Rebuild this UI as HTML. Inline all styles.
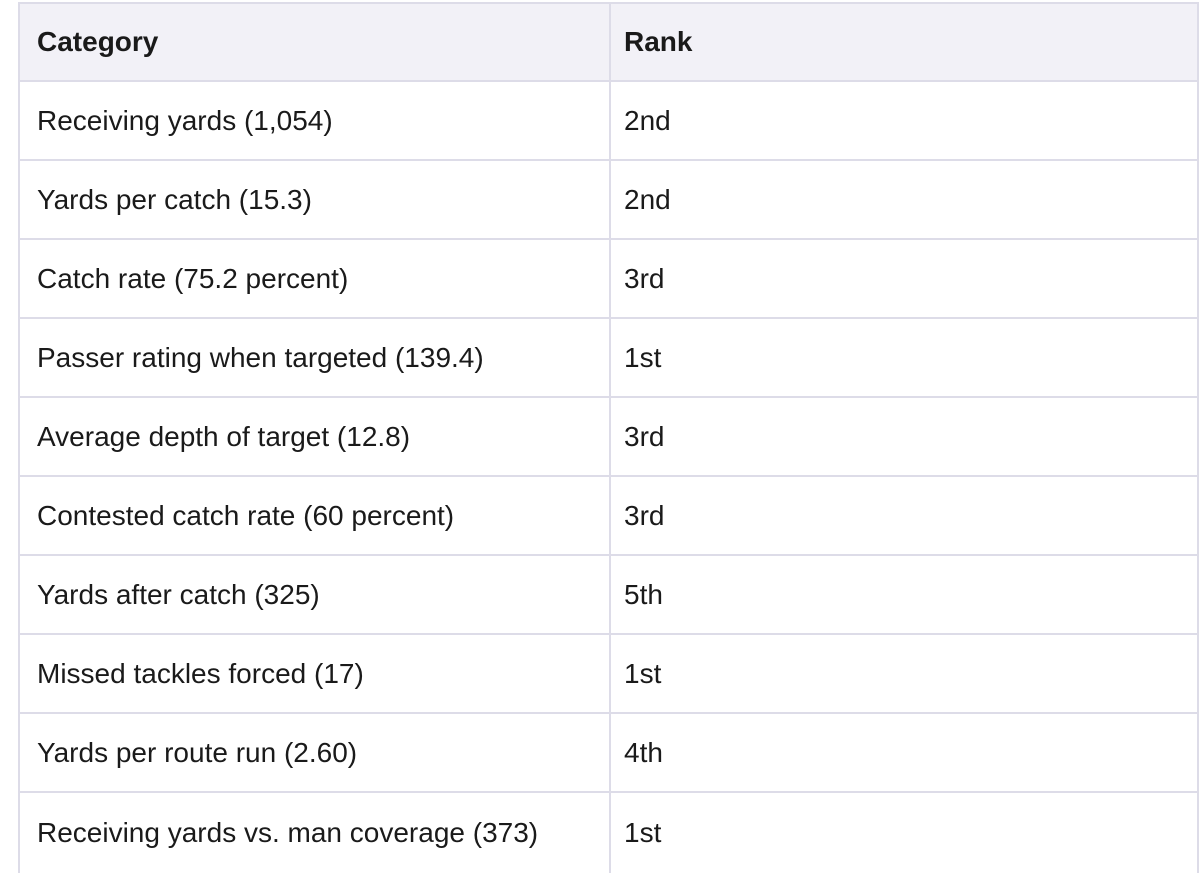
<!DOCTYPE html>
<html><head><style>
body{margin:0;width:1200px;height:869px;overflow:hidden;background:#fff;font-family:"Liberation Sans",sans-serif;}
table{position:absolute;left:18px;top:2px;width:1181px;border-collapse:collapse;}
td,th{border:2px solid #dddce8;height:77px;padding:0 0 0 17px;text-align:left;font-size:28px;color:#1a1a1a;font-weight:normal;}
th{background:#f2f1f7;font-weight:bold;height:76px;}
td:first-child,th:first-child{width:572px;}
tr td:last-child,tr th:last-child{padding-left:13px;}
tr:last-child td{border-bottom:none;height:80px;}
</style></head><body>
<table>
<tr><th>Category</th><th>Rank</th></tr>
<tr><td>Receiving yards (1,054)</td><td>2nd</td></tr>
<tr><td>Yards per catch (15.3)</td><td>2nd</td></tr>
<tr><td>Catch rate (75.2 percent)</td><td>3rd</td></tr>
<tr><td>Passer rating when targeted (139.4)</td><td>1st</td></tr>
<tr><td>Average depth of target (12.8)</td><td>3rd</td></tr>
<tr><td>Contested catch rate (60 percent)</td><td>3rd</td></tr>
<tr><td>Yards after catch (325)</td><td>5th</td></tr>
<tr><td>Missed tackles forced (17)</td><td>1st</td></tr>
<tr><td>Yards per route run (2.60)</td><td>4th</td></tr>
<tr><td>Receiving yards vs. man coverage (373)</td><td>1st</td></tr>
</table>
</body></html>
